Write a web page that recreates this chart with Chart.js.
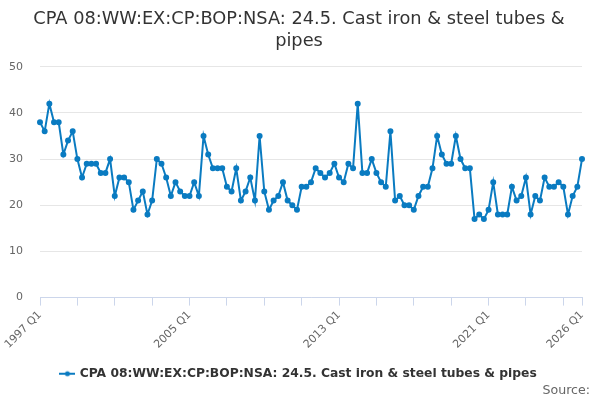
<!DOCTYPE html>
<html>
<head>
<meta charset="utf-8">
<script src="https://cdn.jsdelivr.net/npm/chart.js@4"></script>
<style>
  html, body { margin: 0; padding: 0; background: #fff; }
  #wrap { width: 600px; height: 400px; position: relative; }
</style>
</head>
<body>
<div id="wrap"><canvas id="chart"></canvas></div>
<script>
// Quarterly series, 1997 Q1 .. 2026 Q1
const startYear = 1997;
const endYear = 2026;

const values = [
  38, 36, 42, 38, 38, 31, 34, 36, 30, 26,
  29, 29, 29, 27, 27, 30, 22, 26, 26, 25,
  19, 21, 23, 18, 21, 30, 29, 26, 22, 25,
  23, 22, 22, 25, 22, 35, 31, 28, 28, 28,
  24, 23, 28, 21, 23, 26, 21, 35, 23, 19,
  21, 22, 25, 21, 20, 19, 24, 24, 25, 28,
  27, 26, 27, 29, 26, 25, 29, 28, 42, 27,
  27, 30, 27, 25, 24, 36, 21, 22, 20, 20,
  19, 22, 24, 24, 28, 35, 31, 29, 29, 35,
  30, 28, 28, 17, 18, 17, 19, 25, 18, 18,
  18, 24, 21, 22, 26, 18, 22, 21, 26, 24,
  24, 25, 24, 18, 22, 24, 30
];

const shownLabels = ['1997 Q1', '2005 Q1', '2013 Q1', '2021 Q1', '2026 Q1'];
const yTicks = [0, 10, 20, 30, 40, 50];

const seriesName = 'CPA 08:WW:EX:CP:BOP:NSA: 24.5. Cast iron & steel tubes & pipes';
const titleLines = ['CPA 08:WW:EX:CP:BOP:NSA: 24.5. Cast iron & steel tubes &', 'pipes'];

const labels = [];
for (let y = startYear; y <= endYear; y++) {
    for (let q = 1; q <= 4; q++) {
        if (y === endYear && q > 1) break;
        labels.push(y + ' Q' + q);
    }
}
const last = labels.length - 1;

const lineColor = '#0a7bc1';
const font = "'DejaVu Sans', sans-serif";

// legend symbol: short line with a dot in the middle
function legendSymbol() {
    const c = document.createElement('canvas');
    c.width = 16;
    c.height = 8;
    const g = c.getContext('2d');
    g.strokeStyle = lineColor;
    g.lineWidth = 2;
    g.beginPath();
    g.moveTo(0, 4);
    g.lineTo(16, 4);
    g.stroke();
    g.fillStyle = lineColor;
    g.beginPath();
    g.arc(8, 4, 2.5, 0, Math.PI * 2);
    g.fill();
    return c;
}

new Chart(document.getElementById('chart'), {
    type: 'line',
    data: {
        labels: labels,
        datasets: [{
            label: seriesName,
            data: values,
            borderColor: lineColor,
            backgroundColor: lineColor,
            borderWidth: 2,
            pointRadius: 2,
            pointHoverRadius: 3,
            pointStyle: 'circle',
            tension: 0
        }]
    },
    options: {
        responsive: true,
        maintainAspectRatio: false,
        animation: false,
        layout: { padding: { left: 8, right: 10, top: 0, bottom: 2 } },
        plugins: {
            title: {
                display: true,
                text: titleLines,
                color: '#333',
                font: { family: font, size: 17.8, weight: 'normal', lineHeight: 1.2 },
                padding: { top: 9, bottom: 15 }
            },
            subtitle: {
                display: true,
                text: 'Source:',
                position: 'bottom',
                align: 'end',
                color: '#666',
                font: { family: font, size: 12.6 },
                padding: { top: -7, bottom: 0 }
            },
            legend: {
                position: 'bottom',
                labels: {
                    color: '#333',
                    font: { family: font, size: 12.3, weight: 'bold' },
                    usePointStyle: true,
                    generateLabels: chart => {
                        const items = Chart.defaults.plugins.legend.labels.generateLabels(chart);
                        items.forEach(it => { it.pointStyle = legendSymbol(); });
                        return items;
                    },
                    padding: 3
                }
            },
            tooltip: { enabled: false }
        },
        scales: {
            x: {
                type: 'category',
                afterFit: axis => {
                    axis.height = 67;
                    axis.paddingLeft = 0;
                    axis.paddingRight = 18;
                },
                grid: {
                    drawOnChartArea: false,
                    drawTicks: true,
                    tickLength: 8,
                    color: ctx => (ctx.index % 8 === 0 || ctx.index === last) ? '#ccd6eb' : 'rgba(0,0,0,0)'
                },
                border: { color: '#ccd6eb' },
                ticks: {
                    autoSkip: false,
                    maxRotation: 45,
                    minRotation: 45,
                    color: '#666',
                    font: { family: font, size: 11 },
                    callback: function(value, index) {
                        const l = labels[index];
                        return shownLabels.includes(l) ? l : '';
                    }
                }
            },
            y: {
                min: 0,
                max: 50,
                afterFit: axis => { axis.width = 32; },
                afterBuildTicks: axis => { axis.ticks = yTicks.map(v => ({ value: v })); },
                grid: { color: '#e6e6e6', drawTicks: false },
                border: { display: false },
                ticks: {
                    color: '#666',
                    padding: 17,
                    font: { family: font, size: 11 }
                }
            }
        }
    }
});
</script>
</body>
</html>
